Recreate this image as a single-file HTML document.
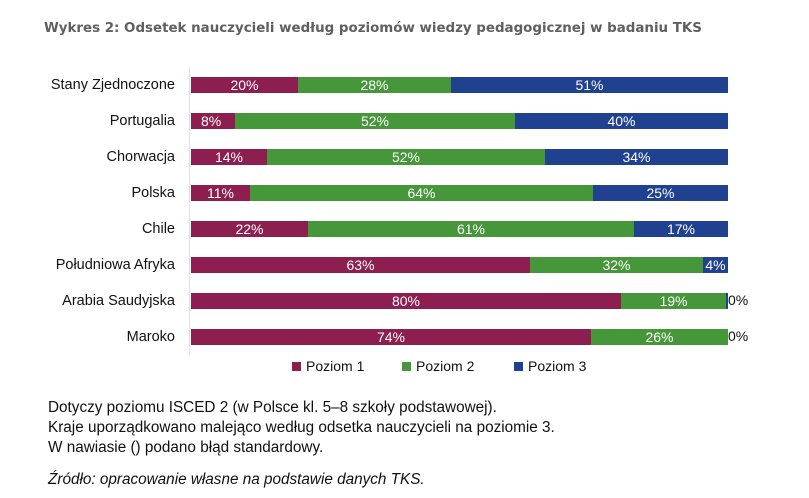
<!DOCTYPE html>
<html><head><meta charset="utf-8"><style>
body{margin:0;width:809px;height:498px;background:#fff;position:relative;overflow:hidden;font-family:"Liberation Sans",sans-serif}
.t{position:absolute;left:44px;top:21px;font-family:"DejaVu Sans",sans-serif;font-weight:bold;font-size:13.4px;color:#5f5f5f;white-space:nowrap}
.lab{position:absolute;right:634px;font-size:14.5px;color:#111;white-space:nowrap}
.s{position:absolute;height:16px;color:#fff;font-size:14px;line-height:16px;text-align:center;overflow:visible;white-space:nowrap}
.m{background:#8c1f4f}.g{background:#46963a}.b{background:#1f4190}
.o{position:absolute;font-size:14px;color:#111}
.leg{position:absolute;top:358px;font-size:14px;color:#111}
.leg i{display:inline-block;width:9px;height:9px;margin-right:5px;vertical-align:0}
.n{position:absolute;left:48px;font-size:15.3px;color:#111;white-space:nowrap}
</style></head><body>
<div class="t">Wykres 2: Odsetek nauczycieli według poziomów wiedzy pedagogicznej w badaniu TKS</div>
<div style="position:absolute;left:189px;top:67px;width:1px;height:288px;background:#e0e0e0"></div>

<div class="lab" style="top:77px">Stany Zjednoczone</div>
<div class="s m" style="top:77px;left:191px;width:107px">20%</div><div class="s g" style="top:77px;left:298px;width:153px">28%</div><div class="s b" style="top:77px;left:451px;width:277px">51%</div>

<div class="lab" style="top:113px">Portugalia</div>
<div class="s m" style="top:113px;left:191px;width:44px;text-align:left;padding-left:10px;box-sizing:border-box">8%</div><div class="s g" style="top:113px;left:235px;width:280px">52%</div><div class="s b" style="top:113px;left:515px;width:213px">40%</div>

<div class="lab" style="top:149px">Chorwacja</div>
<div class="s m" style="top:149px;left:191px;width:76px">14%</div><div class="s g" style="top:149px;left:267px;width:278px">52%</div><div class="s b" style="top:149px;left:545px;width:183px">34%</div>

<div class="lab" style="top:185px">Polska</div>
<div class="s m" style="top:185px;left:191px;width:59px">11%</div><div class="s g" style="top:185px;left:250px;width:343px">64%</div><div class="s b" style="top:185px;left:593px;width:135px">25%</div>

<div class="lab" style="top:221px">Chile</div>
<div class="s m" style="top:221px;left:191px;width:117px">22%</div><div class="s g" style="top:221px;left:308px;width:326px">61%</div><div class="s b" style="top:221px;left:634px;width:94px">17%</div>

<div class="lab" style="top:257px">Południowa Afryka</div>
<div class="s m" style="top:257px;left:191px;width:339px">63%</div><div class="s g" style="top:257px;left:530px;width:173px">32%</div><div class="s b" style="top:257px;left:703px;width:25px">4%</div>

<div class="lab" style="top:293px">Arabia Saudyjska</div>
<div class="s m" style="top:293px;left:191px;width:430px">80%</div><div class="s g" style="top:293px;left:621px;width:105px">19%</div><div class="s b" style="top:293px;left:726px;width:2px"></div>
<div class="o" style="top:292px;left:728px">0%</div>

<div class="lab" style="top:329px">Maroko</div>
<div class="s m" style="top:329px;left:191px;width:400px">74%</div><div class="s g" style="top:329px;left:591px;width:137px">26%</div>
<div class="o" style="top:328px;left:728px">0%</div>

<div class="leg" style="left:292px"><i style="background:#8c1f4f"></i>Poziom 1</div>
<div class="leg" style="left:402px"><i style="background:#46963a"></i>Poziom 2</div>
<div class="leg" style="left:514px"><i style="background:#1f4190"></i>Poziom 3</div>

<div class="n" style="top:399px">Dotyczy poziomu ISCED 2 (w Polsce kl. 5–8 szkoły podstawowej).</div>
<div class="n" style="top:419px">Kraje uporządkowano malejąco według odsetka nauczycieli na poziomie 3.</div>
<div class="n" style="top:439px">W nawiasie () podano błąd standardowy.</div>
<div class="n" style="top:471px;font-style:italic">Źródło: opracowanie własne na podstawie danych TKS.</div>
</body></html>
